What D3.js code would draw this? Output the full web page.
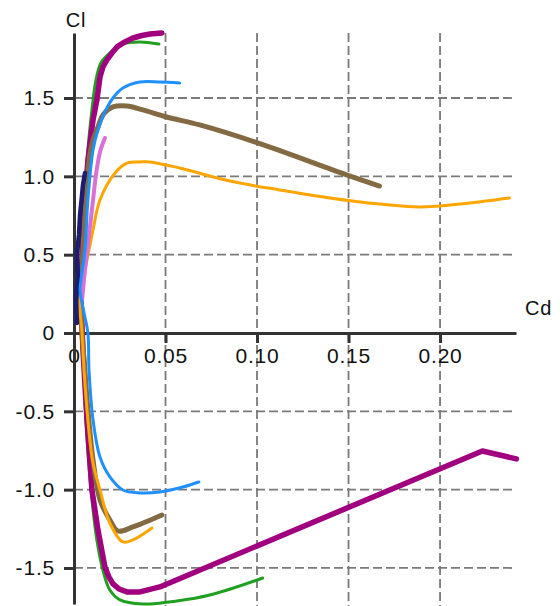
<!DOCTYPE html>
<html>
<head>
<meta charset="utf-8">
<script src="https://cdn.jsdelivr.net/npm/d3@7"></script>
<style>
  html, body { margin: 0; padding: 0; background: #fff; }
  svg { display: block; }
  text { font-family: "Liberation Sans", Arial, sans-serif; fill: #111; }
</style>
</head>
<body>
<svg id="chart" width="560" height="606"></svg>
<script>
// Drag polars: drag coefficient (Cd) against lift coefficient (Cl)
const xTicks = [0, 0.05, 0.10, 0.15, 0.20];
const xTickLabels = ["0", "0.05", "0.10", "0.15", "0.20"];
const yTicks = [-1.5, -1.0, -0.5, 0, 0.5, 1.0, 1.5];
const yTickLabels = ["-1.5", "-1.0", "-0.5", "0", "0.5", "1.0", "1.5"];

const greenCd = [0.1031, 0.0742, 0.0562, 0.0376, 0.0251, 0.0196, 0.0158, 0.0125, 0.0093, 0.0065, 0.0049, 0.0044, 0.0049, 0.0060, 0.0076, 0.0098, 0.0120, 0.0147, 0.0196, 0.0267, 0.0360, 0.0464];
const greenCl = [-1.564, -1.673, -1.711, -1.730, -1.704, -1.641, -1.513, -1.321, -1.002, -0.555, -0.109, 0.211, 0.498, 0.849, 1.168, 1.424, 1.615, 1.724, 1.787, 1.845, 1.858, 1.845];

const purpleCd = [0.2417, 0.2231, 0.0469, 0.0360, 0.0289, 0.0246, 0.0213, 0.0191, 0.0169, 0.0131, 0.0098, 0.0071, 0.0049, 0.0038, 0.0044, 0.0060, 0.0076, 0.0104, 0.0125, 0.0142, 0.0158, 0.0180, 0.0207, 0.0235, 0.0278, 0.0322, 0.0371, 0.0415, 0.0480];
const purpleCl = [-0.804, -0.753, -1.621, -1.653, -1.653, -1.634, -1.602, -1.558, -1.494, -1.258, -1.002, -0.555, -0.109, 0.211, 0.498, 0.849, 1.104, 1.360, 1.487, 1.634, 1.698, 1.743, 1.787, 1.826, 1.858, 1.883, 1.899, 1.909, 1.915];

const brownCd = [0.0480, 0.0322, 0.0240, 0.0196, 0.0142, 0.0104, 0.0076, 0.0055, 0.0044, 0.0038, 0.0049, 0.0065, 0.0082, 0.0104, 0.0131, 0.0158, 0.0213, 0.0289, 0.0376, 0.0507, 0.0687, 0.1004, 0.1489, 0.1669];
const brownCl = [-1.162, -1.238, -1.264, -1.194, -1.066, -0.811, -0.492, -0.172, 0, 0.211, 0.530, 0.849, 1.104, 1.232, 1.315, 1.392, 1.443, 1.449, 1.424, 1.379, 1.328, 1.213, 1.009, 0.938];

const orangeCd = [0.0426, 0.0322, 0.0267, 0.0196, 0.0142, 0.0104, 0.0076, 0.0055, 0.0044, 0.0033, 0.0033, 0.0044, 0.0060, 0.0071, 0.0104, 0.0142, 0.0224, 0.0289, 0.0360, 0.0415, 0.0578, 0.0851, 0.1124, 0.1397, 0.1669, 0.1888, 0.1997, 0.2160, 0.2379];
const orangeCl = [-1.245, -1.321, -1.334, -1.213, -1.002, -0.830, -0.555, -0.236, 0, 0.147, 0.211, 0.338, 0.402, 0.466, 0.658, 0.849, 1.021, 1.085, 1.092, 1.092, 1.053, 0.970, 0.913, 0.862, 0.823, 0.804, 0.811, 0.830, 0.862];

const orchidCd = [0.0044, 0.0060, 0.0082, 0.0104, 0.0120, 0.0142, 0.0169];
const orchidCl = [0.211, 0.402, 0.626, 0.849, 1.009, 1.155, 1.245];

const navyCd = [0.0016, 0.0011, 0.0022, 0.0016, 0.0027, 0.0033, 0.0044, 0.0049, 0.0060];
const navyCl = [0.064, 0.211, 0.357, 0.498, 0.626, 0.753, 0.881, 0.945, 1.021];

const blueCd = [0.0682, 0.0595, 0.0469, 0.0360, 0.0267, 0.0196, 0.0142, 0.0104, 0.0082, 0.0076, 0.0055, 0.0033, 0.0038, 0.0060, 0.0076, 0.0104, 0.0131, 0.0169, 0.0213, 0.0267, 0.0360, 0.0469, 0.0578];
const blueCl = [-0.951, -0.983, -1.015, -1.021, -1.002, -0.919, -0.792, -0.555, -0.236, 0, 0.128, 0.274, 0.338, 0.530, 0.849, 1.168, 1.296, 1.411, 1.500, 1.564, 1.602, 1.602, 1.596];

const smooth = d3.curveCatmullRom.alpha(0.5);

// Drawing order and line styles
const polars = [
  { cd: greenCd,  cl: greenCl,  color: "#20a020", width: 3,   curve: smooth },
  { cd: purpleCd, cl: purpleCl, color: "#a0007f", width: 5.5, curve: d3.curveLinear },
  { cd: brownCd,  cl: brownCl,  color: "#836a42", width: 5,   curve: smooth },
  { cd: orangeCd, cl: orangeCl, color: "#ffa500", width: 3,   curve: smooth },
  { cd: orchidCd, cl: orchidCl, color: "#da70d6", width: 4,   curve: smooth },
  { cd: navyCd,   cl: navyCl,   color: "#1c1c72", width: 4.5, curve: d3.curveLinear },
  { cd: blueCd,   cl: blueCl,   color: "#1e90ff", width: 3,   curve: smooth }
];

const svg = d3.select("#chart");
const x = d3.scaleLinear().domain([0, 0.2415]).range([74, 516]);
const y = d3.scaleLinear().domain([-1.73, 1.915]).range([604, 33]);

const gridColor = "#7a7a7a";
const axisColor = "#333";
const tickFont = '"Liberation Sans", Arial, sans-serif';

// dashed grid
const grid = svg.append("g");
grid.selectAll("line.v")
  .data(xTicks.filter(d => d !== 0))
  .join("line")
  .attr("x1", d => x(d)).attr("x2", d => x(d))
  .attr("y1", y.range()[1]).attr("y2", 606)
  .attr("stroke", gridColor).attr("stroke-width", 1.8)
  .attr("stroke-dasharray", "9,4");
grid.selectAll("line.h")
  .data(yTicks.filter(d => d !== 0))
  .join("line")
  .attr("x1", x(0)).attr("x2", x.range()[1])
  .attr("y1", d => y(d)).attr("y2", d => y(d))
  .attr("stroke", gridColor).attr("stroke-width", 1.8)
  .attr("stroke-dasharray", "9,4");

// axes through the origin
const xAxis = d3.axisBottom(x)
  .tickValues(xTicks)
  .tickFormat((d, i) => xTickLabels[i])
  .tickSize(10).tickSizeOuter(0).tickPadding(5);
const yAxis = d3.axisLeft(y)
  .tickValues(yTicks)
  .tickFormat((d, i) => yTickLabels[i])
  .tickSize(10).tickSizeOuter(0).tickPadding(9);

const gx = svg.append("g").attr("transform", `translate(0,${y(0)})`).call(xAxis);
const gy = svg.append("g").attr("transform", `translate(${x(0)},0)`).call(yAxis);

[gx, gy].forEach(g => {
  g.select(".domain").attr("stroke", axisColor).attr("stroke-width", 3);
  g.selectAll(".tick line").attr("stroke", axisColor).attr("stroke-width", 3);
  g.selectAll(".tick text")
    .attr("fill", "#111")
    .style("font-family", tickFont)
    .style("font-size", "21px")
    .style("letter-spacing", "0.8px");
});

// polar curves
svg.append("g").selectAll("path")
  .data(polars)
  .join("path")
  .attr("d", p => d3.line()
      .x(d => x(d[0]))
      .y(d => y(d[1]))
      .curve(p.curve)(p.cd.map((c, i) => [c, p.cl[i]])))
  .attr("fill", "none")
  .attr("stroke", p => p.color)
  .attr("stroke-width", p => p.width)
  .attr("stroke-linejoin", "round")
  .attr("stroke-linecap", "round");

// axis titles
svg.append("text")
  .attr("x", x(0) + 2).attr("y", 27)
  .attr("text-anchor", "middle")
  .style("font-size", "20px")
  .style("letter-spacing", "0.8px")
  .text("Cl");
svg.append("text")
  .attr("x", 525).attr("y", 315)
  .style("font-size", "20px")
  .style("letter-spacing", "0.8px")
  .text("Cd");
</script>
</body>
</html>
